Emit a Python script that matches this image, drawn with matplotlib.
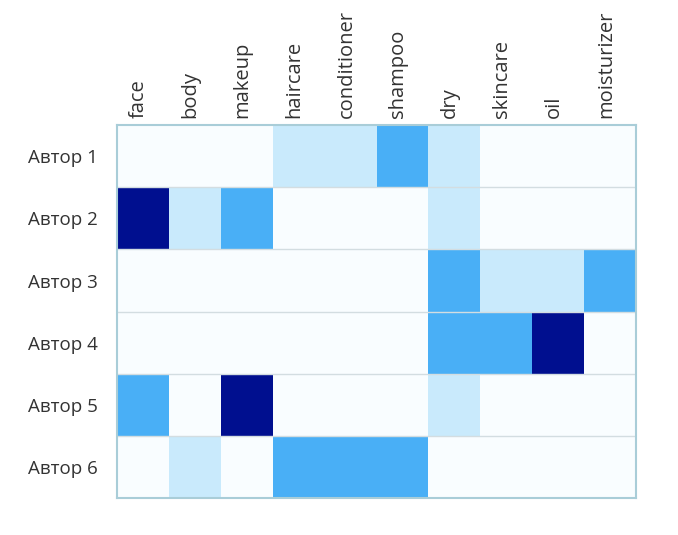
import numpy as np
import matplotlib.pyplot as plt
from matplotlib.colors import ListedColormap, BoundaryNorm

plt.rcParams['font.family'] = ['Open Sans', 'DejaVu Sans']

topics = ["face", "body", "makeup", "haircare", "conditioner",
          "shampoo", "dry", "skincare", "oil", "moisturizer"]
authors = ["Автор 1", "Автор 2", "Автор 3", "Автор 4", "Автор 5", "Автор 6"]

# intensity level per author / topic (0 = none, 3 = strongest)
author1 = [0, 0, 0, 1, 1, 2, 1, 0, 0, 0]
author2 = [3, 1, 2, 0, 0, 0, 1, 0, 0, 0]
author3 = [0, 0, 0, 0, 0, 0, 2, 1, 1, 2]
author4 = [0, 0, 0, 0, 0, 0, 2, 2, 3, 0]
author5 = [2, 0, 3, 0, 0, 0, 1, 0, 0, 0]
author6 = [0, 1, 0, 2, 2, 2, 0, 0, 0, 0]

levels = np.array([author1, author2, author3, author4, author5, author6])

cmap = ListedColormap(["#f9fdff", "#c9eafc", "#49aff6", "#000f8f"])
norm = BoundaryNorm([-0.5, 0.5, 1.5, 2.5, 3.5], cmap.N)

fig = plt.figure(figsize=(6.78, 5.35), dpi=100)
ax = fig.add_axes([0.1726, 0.0692, 0.7655, 0.6968])

ax.pcolormesh(levels, cmap=cmap, norm=norm)
ax.set_xlim(0, len(topics))
ax.set_ylim(len(authors), 0)

ax.set_xticks(np.arange(len(topics)) + 0.42)
ax.set_xticklabels(topics, rotation=90, fontsize=14.5, color="#333333")
ax.xaxis.tick_top()
ax.set_yticks(np.arange(len(authors)) + 0.5)
ax.set_yticklabels(authors, fontsize=13.5, color="#333333")
ax.tick_params(length=0)
ax.tick_params(axis="y", pad=14)
ax.tick_params(axis="x", pad=5)

# row separators
ax.set_yticks(np.arange(1, len(authors)), minor=True)
ax.tick_params(which="minor", length=0)
ax.grid(which="minor", axis="y", color="#d3dde1", linewidth=1)
ax.grid(which="major", visible=False)

for s in ax.spines.values():
    s.set_color("#a9cdd8")
    s.set_linewidth(1.5)

fig.savefig("out.png", dpi=100)
plt.close()
